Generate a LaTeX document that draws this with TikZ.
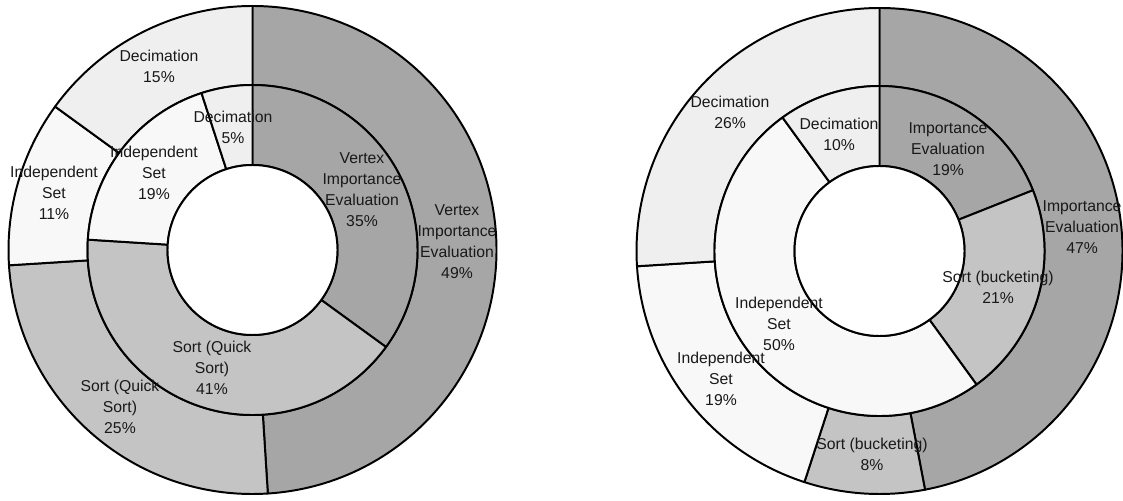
\documentclass[tikz,border=0pt]{standalone}
\usepackage{fontspec}
\setmainfont{Liberation Sans}

\definecolor{evalgray}{HTML}{A6A6A6}
\definecolor{sortgray}{HTML}{C4C4C4}
\definecolor{indepgray}{HTML}{F8F8F8}
\definecolor{decimgray}{HTML}{EFEFEF}

\begin{document}
\begin{tikzpicture}[x=0.025cm, y=0.025cm, line width=1.4pt,
  part/.style={draw=black, line join=round},
  lbl/.style={align=center, inner sep=0pt, text=black!90,
    font=\fontsize{11.2}{14.9}\selectfont}]
 \useasboundingbox (0,0) rectangle (1123,500);
 \coordinate (cL) at (252.5,250);
 \coordinate (cR) at (879.5,249);

 % left chart: quick sort
 \begin{scope}[shift={(cL)}]
  \foreach \a/\b/\c in {90/-86.4/evalgray, -86.4/-176.4/sortgray,
    -176.4/-216/indepgray, -216/-270/decimgray}
   \filldraw[part, fill=\c] (\a:244) arc[start angle=\a, end angle=\b, radius=244]
    -- (\b:165) arc[start angle=\b, end angle=\a, radius=165] -- cycle;
  \foreach \a/\b/\c in {90/-36/evalgray, -36/-183.6/sortgray,
    -183.6/-252/indepgray, -252/-270/decimgray}
   \filldraw[part, fill=\c] (\a:165) arc[start angle=\a, end angle=\b, radius=165]
    -- (\b:85) arc[start angle=\b, end angle=\a, radius=85] -- cycle;
  \filldraw[part, fill=white] (0,0) circle[radius=85];
 \end{scope}

 % right chart: bucketing
 \begin{scope}[shift={(cR)}]
  \foreach \a/\b/\c in {90/-79.2/evalgray, -79.2/-108/sortgray,
    -108/-176.4/indepgray, -176.4/-270/decimgray}
   \filldraw[part, fill=\c] (\a:243) arc[start angle=\a, end angle=\b, radius=243]
    -- (\b:165) arc[start angle=\b, end angle=\a, radius=165] -- cycle;
  \foreach \a/\b/\c in {90/21.6/evalgray, 21.6/-54/sortgray,
    -54/-234/indepgray, -234/-270/decimgray}
   \filldraw[part, fill=\c] (\a:165) arc[start angle=\a, end angle=\b, radius=165]
    -- (\b:85) arc[start angle=\b, end angle=\a, radius=85] -- cycle;
  \filldraw[part, fill=white] (0,0) circle[radius=85];
 \end{scope}

 % labels
 \node[lbl] (decOutL) at (159,434) {Decimation\\15\%};
 \node[lbl] (decInL) at (233,373) {Decimation\\5\%};
 \node[lbl] (indOutL) at (54,307) {Independent\\Set\\11\%};
 \node[lbl] (indInL) at (154,327) {Independent\\Set\\19\%};
 \node[lbl] (evalInL) at (362,310) {Vertex\\Importance\\Evaluation\\35\%};
 \node[lbl] (evalOutL) at (457,258) {Vertex\\Importance\\Evaluation\\49\%};
 \node[lbl] (sortInL) at (212,132) {Sort (Quick\\Sort)\\41\%};
 \node[lbl] (sortOutL) at (120,93) {Sort (Quick\\Sort)\\25\%};

 \node[lbl] (decOutR) at (730,388) {Decimation\\26\%};
 \node[lbl] (decInR) at (839,366) {Decimation\\10\%};
 \node[lbl] (evalInR) at (948,351) {Importance\\Evaluation\\19\%};
 \node[lbl] (evalOutR) at (1082,273) {Importance\\Evaluation\\47\%};
 \node[lbl] (sortInR) at (998,213) {Sort (bucketing)\\21\%};
 \node[lbl] (indInR) at (779,176) {Independent\\Set\\50\%};
 \node[lbl] (indOutR) at (721,121) {Independent\\Set\\19\%};
 \node[lbl] (sortOutR) at (872,46) {Sort (bucketing)\\8\%};
\end{tikzpicture}
\end{document}
